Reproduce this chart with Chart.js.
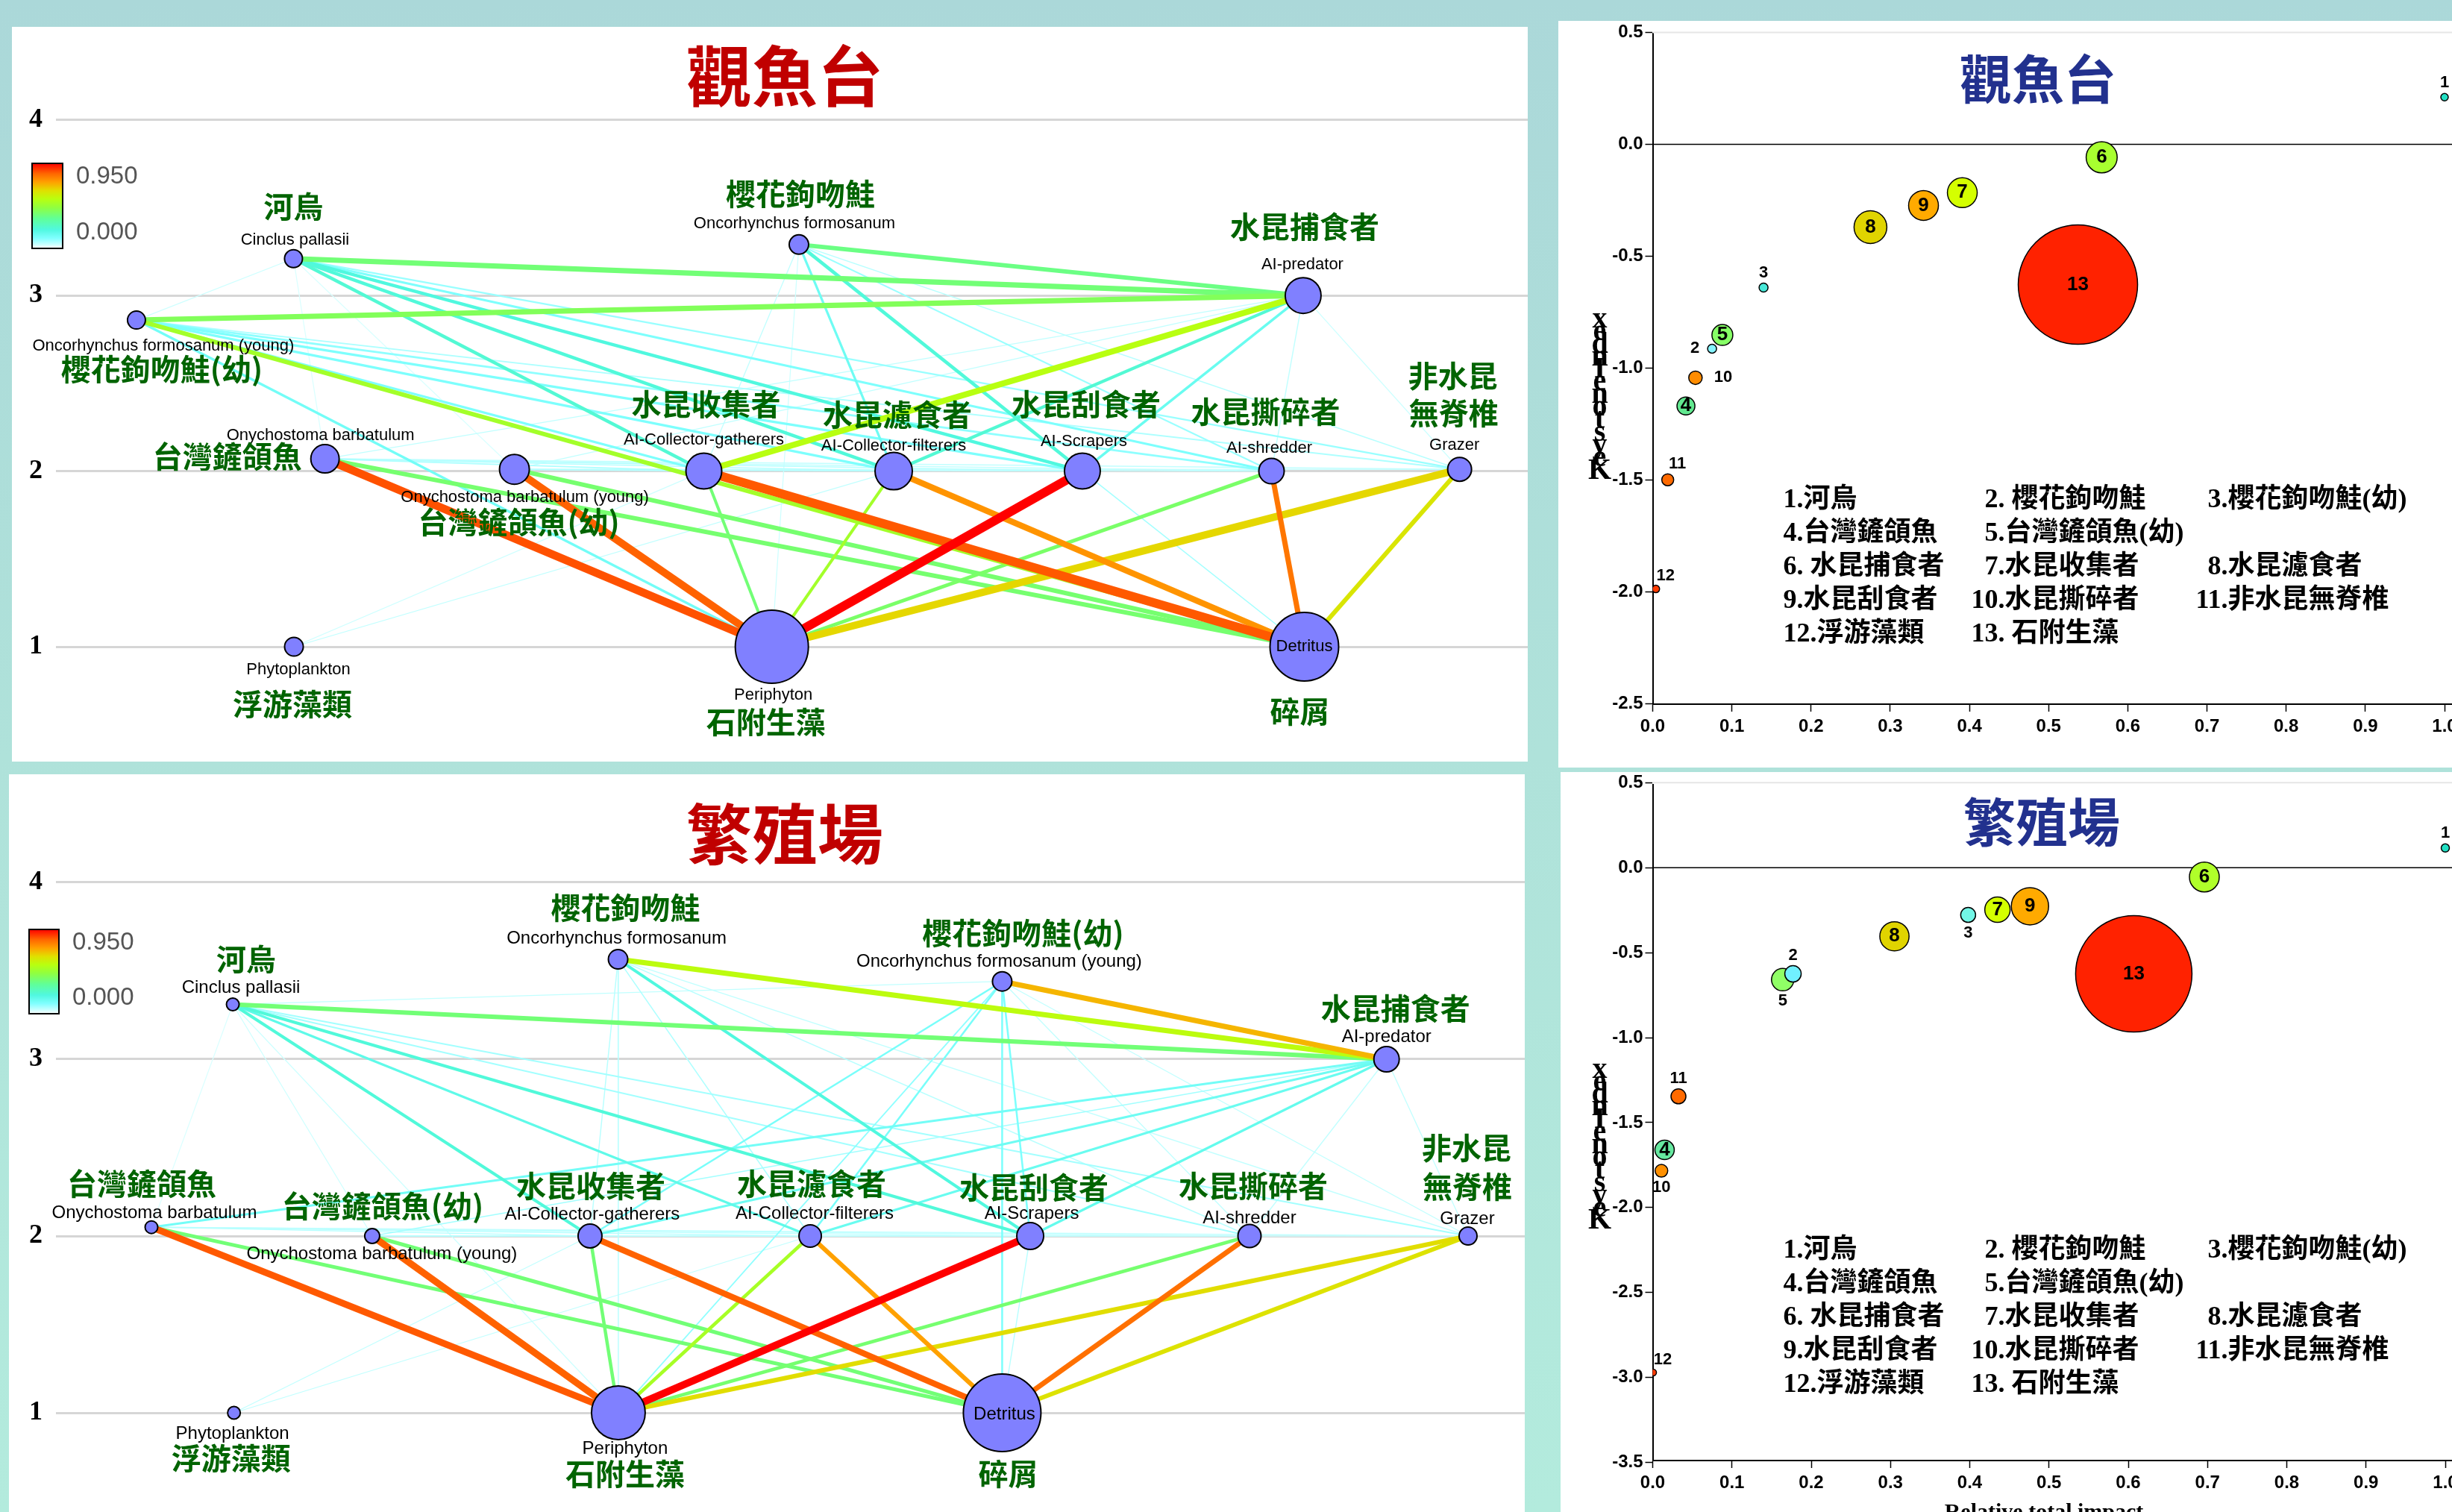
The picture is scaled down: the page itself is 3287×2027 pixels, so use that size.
<!DOCTYPE html>
<html lang="zh-Hant">
<head>
<meta charset="utf-8">
<title>食物網與關鍵種指數</title>
<script src="https://cdn.jsdelivr.net/npm/chart.js@4.4.1/dist/chart.umd.min.js"></script>
<style>
  html, body { margin: 0; padding: 0; }
  body { width: 3287px; height: 2027px; overflow: hidden; position: relative;
         background: linear-gradient(to bottom, #abd8d9 0%, #afe2da 50%, #b3ebdd 100%); }
  .panel { position: absolute; background: #ffffff; overflow: hidden; }
  .panel canvas { display: block; }
</style>
</head>
<body>
<div class="panel" style="left:16px;top:36px;width:2032px;height:985px;"><canvas id="webA" width="2032" height="985"></canvas></div>
<div class="panel" style="left:12px;top:1038px;width:2032px;height:989px;"><canvas id="webB" width="2032" height="989"></canvas></div>
<div class="panel" style="left:2089px;top:28px;width:1198px;height:1001px;"><canvas id="ksiA" width="1300" height="1001"></canvas></div>
<div class="panel" style="left:2092px;top:1035px;width:1195px;height:992px;"><canvas id="ksiB" width="1300" height="992"></canvas></div>
<script>
// ---------- functional groups ----------
const groupNames = ['河烏', '櫻花鉤吻鮭', '櫻花鉤吻鮭(幼)', '台灣鏟頜魚', '台灣鏟頜魚(幼)',
  '水昆捕食者', '水昆收集者', '水昆濾食者', '水昆刮食者', '水昆撕碎者', '非水昆無脊椎',
  '浮游藻類', '石附生藻', '碎屑'];
const groupSciNames = ['Cinclus pallasii', 'Oncorhynchus formosanum', 'Oncorhynchus formosanum (young)',
  'Onychostoma barbatulum', 'Onychostoma barbatulum (young)', 'AI-predator', 'AI-Collector-gatherers',
  'AI-Collector-filterers', 'AI-Scrapers', 'AI-shredder', 'Grazer', 'Phytoplankton', 'Periphyton', 'Detritus'];

// ---------- 觀魚台 food web ----------
const siteATitle = '觀魚台';
const siteATrophicLevel = [3.21, 3.29, 2.86, 2.07, 2.01, 3.00, 2.00, 2.00, 2.00, 2.00, 2.01, 1.00, 1.00, 1.00];
const siteAWebColumn    = [16.14, 50.48, 5.47, 18.28, 31.15, 84.74, 44.02, 56.92, 69.74, 82.59, 95.37, 16.17, 48.64, 84.82];
const siteABiomass      = [4.0, 4.69, 4.0, 10.03, 11.11, 16.0, 16.0, 17.36, 16.0, 8.03, 7.11, 4.34, 66.69, 58.78];
// [consumer, prey, diet proportion, relative flow]
const siteALinks = [
  [0, 5, 0.38, 0.55], [0, 6, 0.23, 0.32], [0, 7, 0.22, 0.32], [0, 8, 0.21, 0.30], [0, 9, 0.12, 0.18],
  [0, 10, 0.09, 0.12], [0, 2, 0.04, 0.02], [0, 4, 0.03, 0.02], [0, 3, 0.03, 0.02],
  [1, 5, 0.36, 0.45], [1, 6, 0.05, 0.03], [1, 7, 0.15, 0.20], [1, 8, 0.22, 0.32], [1, 9, 0.09, 0.10],
  [1, 10, 0.06, 0.05], [1, 12, 0.04, 0.02],
  [2, 5, 0.42, 0.55], [2, 13, 0.50, 0.45], [2, 6, 0.12, 0.20], [2, 7, 0.12, 0.20], [2, 8, 0.12, 0.20],
  [2, 9, 0.10, 0.15], [2, 10, 0.07, 0.08], [2, 12, 0.14, 0.22],
  [3, 12, 0.86, 0.90], [3, 13, 0.39, 0.45], [3, 6, 0.07, 0.06], [3, 7, 0.06, 0.05], [3, 8, 0.06, 0.05],
  [3, 9, 0.05, 0.04], [3, 10, 0.05, 0.04], [3, 5, 0.05, 0.03],
  [4, 12, 0.84, 0.82], [4, 13, 0.39, 0.45], [4, 6, 0.06, 0.05], [4, 7, 0.06, 0.05], [4, 8, 0.05, 0.04],
  [4, 9, 0.05, 0.04], [4, 10, 0.04, 0.03], [4, 5, 0.05, 0.03],
  [5, 6, 0.55, 0.64], [5, 7, 0.23, 0.30], [5, 8, 0.16, 0.22], [5, 9, 0.05, 0.04], [5, 10, 0.04, 0.03],
  [6, 13, 0.85, 1.00], [6, 12, 0.38, 0.27], [6, 11, 0.04, 0.02],
  [7, 13, 0.76, 0.64], [7, 12, 0.50, 0.27], [7, 11, 0.05, 0.02],
  [8, 12, 0.95, 1.00], [8, 13, 0.08, 0.05],
  [9, 13, 0.81, 0.55], [9, 12, 0.40, 0.36],
  [10, 12, 0.66, 0.82], [10, 13, 0.63, 0.45]
];

// ---------- 繁殖場 food web ----------
const siteBTitle = '繁殖場';
const siteBTrophicLevel = [3.31, 3.565, 3.44, 2.05, 2.00, 3.00, 2.00, 2.00, 2.00, 2.00, 2.00, 1.00, 1.00, 1.00];
const siteBWebColumn    = [12.04, 38.27, 64.42, 6.50, 21.53, 90.59, 36.36, 51.35, 66.33, 81.26, 96.14, 12.12, 38.29, 64.42];
const siteBBiomass      = [2.01, 4.69, 4.69, 2.01, 2.78, 8.03, 7.11, 6.25, 9.0, 6.67, 4.0, 2.01, 36.0, 75.11];
const siteBLinks = [
  [0, 5, 0.38, 0.45], [0, 6, 0.22, 0.27], [0, 7, 0.18, 0.20], [0, 8, 0.22, 0.27], [0, 9, 0.08, 0.08],
  [0, 10, 0.08, 0.08], [0, 2, 0.05, 0.02], [0, 4, 0.04, 0.02], [0, 3, 0.03, 0.02], [0, 12, 0.04, 0.02],
  [1, 5, 0.56, 0.55], [1, 8, 0.21, 0.27], [1, 6, 0.06, 0.04], [1, 7, 0.07, 0.05], [1, 9, 0.06, 0.04],
  [1, 10, 0.05, 0.03], [1, 12, 0.06, 0.03],
  [2, 5, 0.71, 0.55], [2, 13, 0.12, 0.14], [2, 8, 0.12, 0.14], [2, 6, 0.13, 0.14], [2, 7, 0.13, 0.14],
  [2, 9, 0.05, 0.03], [2, 10, 0.05, 0.03], [2, 12, 0.10, 0.08],
  [3, 12, 0.85, 0.73], [3, 13, 0.38, 0.36], [3, 6, 0.06, 0.04], [3, 7, 0.06, 0.04], [3, 8, 0.05, 0.04],
  [3, 9, 0.05, 0.03], [3, 10, 0.05, 0.03],
  [4, 12, 0.84, 0.73], [4, 13, 0.38, 0.36], [4, 6, 0.06, 0.04], [4, 7, 0.05, 0.04], [4, 8, 0.05, 0.04],
  [4, 9, 0.05, 0.03], [4, 10, 0.04, 0.03],
  [5, 3, 0.14, 0.18], [5, 4, 0.08, 0.06], [5, 6, 0.15, 0.18], [5, 7, 0.16, 0.20], [5, 8, 0.17, 0.20],
  [5, 9, 0.05, 0.03], [5, 10, 0.05, 0.03],
  [6, 13, 0.84, 0.64], [6, 12, 0.38, 0.32], [6, 11, 0.05, 0.02],
  [7, 13, 0.74, 0.45], [7, 12, 0.51, 0.32], [7, 11, 0.05, 0.02],
  [8, 12, 0.95, 0.82], [8, 13, 0.06, 0.04],
  [9, 13, 0.82, 0.55], [9, 12, 0.39, 0.32],
  [10, 12, 0.65, 0.45], [10, 13, 0.64, 0.45]
];

// ---------- keystoneness (groups 1-13) ----------
const ksiLegendNames = groupNames.slice(0, 13);
const siteAImpact    = [1.000, 0.075, 0.140, 0.042, 0.088, 0.567, 0.391, 0.275, 0.342, 0.054, 0.019, 0.004, 0.537];
const siteAKeystone  = [0.211, -0.913, -0.640, -1.169, -0.852, -0.058, -0.216, -0.370, -0.273, -1.043, -1.499, -1.987, -0.627];
const siteABubble    = [0.69, 1.0, 1.0, 4.0, 5.44, 12.02, 11.11, 13.44, 11.11, 2.25, 1.78, 0.69, 177.8];
const siteBImpact    = [1.000, 0.177, 0.398, 0.015, 0.164, 0.696, 0.435, 0.305, 0.476, 0.011, 0.0325, 0.0005, 0.607];
const siteBKeystone  = [0.116, -0.625, -0.278, -1.661, -0.659, -0.055, -0.247, -0.404, -0.227, -1.784, -1.346, -2.971, -0.625];
const siteBBubble    = [0.84, 3.36, 2.78, 4.69, 6.25, 11.11, 8.03, 10.67, 17.36, 2.01, 2.78, 0.56, 169.0];
const impactTicks    = [0.0, 0.1, 0.2, 0.3, 0.4, 0.5, 0.6, 0.7, 0.8, 0.9, 1.0];

// ---------- colour helpers ----------
const HEAT_MAX = 0.95;
const heatStops = [[0, '#ffffff'], [0.05, '#c4ffff'], [0.12, '#80ffff'], [0.22, '#50f8e0'], [0.35, '#60ff98'],
  [0.48, '#90ff40'], [0.58, '#b8ff10'], [0.68, '#e0e000'], [0.78, '#ffa000'], [0.88, '#ff6600'], [1, '#ff0000']];
function hexToRgb(h) { return [1, 3, 5].map(i => parseInt(h.substr(i, 2), 16)); }
function heat(v) {
  const t = Math.max(0, Math.min(1, v / HEAT_MAX));
  for (let i = 1; i < heatStops.length; i++) {
    if (t <= heatStops[i][0]) {
      const [t0, c0] = heatStops[i - 1], [t1, c1] = heatStops[i];
      const f = (t - t0) / (t1 - t0), a = hexToRgb(c0), b = hexToRgb(c1);
      return 'rgb(' + a.map((x, k) => Math.round(x + (b[k] - x) * f)).join(',') + ')';
    }
  }
  return heatStops[heatStops.length - 1][1];
}
const flowWidth = f => 1 + 11 * f;
const nodeRadius = b => 6 * Math.sqrt(b);

const ZH_GREEN = '#006400';
const ZH_FONT = 'bold 40px "Noto Sans CJK TC", "Noto Sans CJK SC", sans-serif';
const SERIF = '"Liberation Serif", "Times New Roman", serif';
const SANS = '"Liberation Sans", Arial, sans-serif';

// Re-set the axis ranges once the layout is known, so that a given value
// lands on a given pixel whatever padding the axes reserved.
function pinScales(chart, p) {
  for (let k = 0; k < 4; k++) {
    const a = chart.chartArea;
    const sx = chart.options.scales.x, sy = chart.options.scales.y;
    sx.min = p.xVal + (a.left - p.xPx) / p.xUnit;
    sx.max = p.xVal + (a.right - p.xPx) / p.xUnit;
    sy.max = p.yVal + (p.yPx - a.top) / p.yUnit;
    sy.min = p.yVal - (a.bottom - p.yPx) / p.yUnit;
    chart.update();
  }
}

// ---------- food web chart ----------
const webDecor = {
  id: 'webDecor',
  afterDatasetsDraw(chart, args, o) {
    const ctx = chart.ctx;
    const meta = chart.getDatasetMeta(0);
    ctx.save();
    ctx.textAlign = 'center';
    ctx.textBaseline = 'middle';
    meta.data.forEach((pt, i) => {
      const L = o.labels[i];
      ctx.font = o.enFont;
      ctx.fillStyle = '#000';
      ctx.fillText(groupSciNames[i], pt.x + L.en[0], pt.y + L.en[1]);
      ctx.font = ZH_FONT;
      ctx.fillStyle = ZH_GREEN;
      if (L.zh2) {
        const n = groupNames[i];
        ctx.fillText(n.slice(0, 3), pt.x + L.zh[0], pt.y + L.zh[1]);
        ctx.fillText(n.slice(3), pt.x + L.zh2[0], pt.y + L.zh2[1]);
      } else {
        ctx.fillText(groupNames[i], pt.x + L.zh[0], pt.y + L.zh[1]);
      }
    });
    // title
    ctx.font = 'bold 88px "Noto Sans CJK TC", sans-serif';
    ctx.fillStyle = '#c00000';
    ctx.fillText(o.title, o.titlePos[0], o.titlePos[1]);
    // colour bar
    const [bx, by, bw, bh] = o.bar;
    const g = ctx.createLinearGradient(0, by + bh, 0, by);
    heatStops.forEach(([t, c]) => g.addColorStop(t, c));
    ctx.fillStyle = g;
    ctx.fillRect(bx, by, bw, bh);
    ctx.strokeStyle = '#000';
    ctx.lineWidth = 2;
    ctx.strokeRect(bx, by, bw, bh);
    ctx.font = '33px ' + SANS;
    ctx.fillStyle = '#555';
    ctx.textAlign = 'left';
    ctx.fillText(HEAT_MAX.toFixed(3), o.barLabels[0], o.barLabels[1]);
    ctx.fillText((0).toFixed(3), o.barLabels[0], o.barLabels[2]);
    ctx.restore();
  }
};

function buildWeb(id, tl, col, biomass, links, layout) {
  const datasets = [{
    type: 'bubble',
    data: tl.map((y, i) => ({ x: col[i], y, r: nodeRadius(biomass[i]) })),
    backgroundColor: '#8080ff', borderColor: '#000', borderWidth: 2, order: 0
  }];
  links.forEach(([a, b, p, f]) => {
    datasets.push({
      type: 'line',
      data: [{ x: col[a], y: tl[a] }, { x: col[b], y: tl[b] }],
      borderColor: heat(p), borderWidth: flowWidth(f),
      pointRadius: 0, fill: false, tension: 0, order: 2 - p
    });
  });
  const chart = new Chart(document.getElementById(id), {
    type: 'scatter',
    data: { datasets },
    options: {
      responsive: false, animation: false, events: [], devicePixelRatio: 1,
      layout: { padding: 0, autoPadding: false },
      plugins: { legend: { display: false }, tooltip: { enabled: false }, webDecor: layout.decor },
      scales: {
        x: { type: 'linear', min: 0, max: 100, display: false },
        y: {
          type: 'linear', min: 0.4, max: 4.5,
          afterFit(s) { s.width = layout.axisWidth; },
          afterBuildTicks(s) { s.ticks = [1, 2, 3, 4].map(v => ({ value: v })); },
          grid: { color: '#d6d6d6', lineWidth: 3, drawTicks: false },
          border: { display: false },
          ticks: { font: { family: SERIF, size: 36, weight: 'bold' }, color: '#000', padding: 18,
                   autoSkip: false, callback: v => String(v) }
        }
      }
    },
    plugins: [webDecor]
  });
  pinScales(chart, layout.pin);
  return chart;
}

buildWeb('webA', siteATrophicLevel, siteAWebColumn, siteABiomass, siteALinks, {
  axisWidth: 59,
  pin: { xVal: 0, xPx: 59, xUnit: 19.73, yVal: 1, yPx: 831, yUnit: 235.43 },
  decor: {
    title: siteATitle, titlePos: [1036, 66], enFont: '22px ' + SANS,
    bar: [27, 183, 41, 114], barLabels: [86, 201, 276],
    labels: [
      { en: [2, -25], zh: [0, -70] }, { en: [-6, -28], zh: [2, -68] }, { en: [36, 35], zh: [34, 66] },
      { en: [-6, -31], zh: [-131, -3] }, { en: [14, 38], zh: [6, 71] }, { en: [-1, -41], zh: [2, -92] },
      { en: [0, -42], zh: [3, -90] }, { en: [0, -34], zh: [5, -76] }, { en: [2, -40], zh: [5, -90] },
      { en: [-3, -31], zh: [-8, -80] }, { en: [-7, -32], zh: [-9, -125], zh2: [-8, -75] },
      { en: [6, 31], zh: [-2, 77] }, { en: [2, 65], zh: [-8, 101] }, { en: [0, 0], zh: [-6, 87] }
    ]
  }
});

buildWeb('webB', siteBTrophicLevel, siteBWebColumn, siteBBiomass, siteBLinks, {
  axisWidth: 63,
  pin: { xVal: 0, xPx: 63, xUnit: 19.69, yVal: 1, yPx: 856, yUnit: 237 },
  decor: {
    title: siteBTitle, titlePos: [1040, 80], enFont: '24px ' + SANS,
    bar: [27, 208, 40, 113], barLabels: [85, 226, 300],
    labels: [
      { en: [11, -22], zh: [18, -61] }, { en: [-2, -28], zh: [10, -69] }, { en: [-4, -26], zh: [28, -65] },
      { en: [4, -19], zh: [-13, -58] }, { en: [13, 24], zh: [14, -40] }, { en: [0, -30], zh: [12, -68] },
      { en: [3, -29], zh: [1, -67] }, { en: [6, -30], zh: [2, -70] }, { en: [2, -30], zh: [5, -65] },
      { en: [0, -24], zh: [5, -67] }, { en: [-1, -23], zh: [-2, -118], zh2: [-1, -66] },
      { en: [-2, 28], zh: [-4, 61] }, { en: [9, 48], zh: [9, 82] }, { en: [3, 2], zh: [8, 82] }
    ]
  }
});

// ---------- keystoneness chart ----------
const ksiDecor = {
  id: 'ksiDecor',
  beforeDatasetsDraw(chart) {
    const ctx = chart.ctx;
    const xs = chart.scales.x, ys = chart.scales.y;
    const left = xs.getPixelForValue(0);
    ctx.save();
    // faint frame top and the zero reference line
    ctx.strokeStyle = '#e6e6e6';
    ctx.lineWidth = 2;
    ctx.beginPath();
    ctx.moveTo(left, ys.getPixelForValue(0.5));
    ctx.lineTo(chart.width, ys.getPixelForValue(0.5));
    ctx.stroke();
    ctx.strokeStyle = '#000';
    ctx.lineWidth = 1.5;
    ctx.beginPath();
    ctx.moveTo(left, ys.getPixelForValue(0));
    ctx.lineTo(chart.width, ys.getPixelForValue(0));
    ctx.stroke();
    ctx.restore();
  },
  afterDatasetsDraw(chart, args, o) {
    const ctx = chart.ctx;
    const xs = chart.scales.x, ys = chart.scales.y;
    const plotLeft = xs.getPixelForValue(0), plotTop = ys.getPixelForValue(0.5);
    const meta = chart.getDatasetMeta(0);
    ctx.save();
    // bubble numbers
    ctx.fillStyle = '#000';
    meta.data.forEach((pt, k) => {
      const i = o.order[k];
      const r = pt.options.radius;
      const place = o.place[i] || 'in';
      let x = pt.x, y = pt.y;
      ctx.textBaseline = 'middle';
      ctx.textAlign = 'center';
      ctx.font = (place === 'in' ? 'bold 26px ' : 'bold 22px ') + SANS;
      if (place === 'above') y -= r + 14;
      else if (place === 'below') y += r + 14;
      else if (place === 'left') { x -= r + 11; ctx.textAlign = 'right'; }
      else if (place === 'right') { x += r + 16; ctx.textAlign = 'left'; }
      else if (place === 'aboveRight') { x += 13; y -= r + 13; }
      ctx.fillText(String(i + 1), x, y);
    });
    // title
    ctx.textAlign = 'center';
    ctx.textBaseline = 'middle';
    ctx.font = 'bold 70px "Noto Sans CJK TC", sans-serif';
    ctx.fillStyle = '#22318e';
    ctx.fillText(o.title, o.titlePos[0], o.titlePos[1]);
    // stacked axis title
    ctx.fillStyle = '#000';
    ctx.font = 'bold 40px ' + SERIF;
    const chars = [...'Keystone Index'].reverse().filter(c => c !== ' ');
    chars.forEach((c, k) => ctx.fillText(c, plotLeft - 71, plotTop + 385 + k * 16.9));
    // group list
    ctx.font = 'bold 36px ' + SERIF + ', "Noto Sans CJK TC"';
    const cols = [plotLeft + 175, plotLeft + 472, plotLeft + 771];
    ksiLegendNames.forEach((name, i) => {
      const row = o.grid[i][0], colIdx = o.grid[i][1];
      const y = plotTop + 627 + row * 45;
      const num = (i + 1) + '.';
      const gap = o.spaced.includes(i) ? ' ' : '';
      if (colIdx === 0) {
        ctx.textAlign = 'left';
        ctx.fillText(num + gap + name, cols[0], y);
      } else {
        ctx.textAlign = 'right';
        ctx.fillText(num, cols[colIdx], y);
        ctx.textAlign = 'left';
        ctx.fillText(gap + name, cols[colIdx], y);
      }
    });
    if (o.xTitle) {
      ctx.textAlign = 'center';
      ctx.textBaseline = 'top';
      ctx.font = 'bold 30px ' + SERIF;
      ctx.fillText(o.xTitle, o.xTitlePos[0], o.xTitlePos[1]);
    }
    ctx.restore();
  }
};

function buildKsi(id, impact, keystone, bubble, colors, layout) {
  const order = impact.map((_, i) => i).reverse();
  const yTicks = [];
  for (let v = 0.5; v >= layout.yMin - 1e-9; v -= 0.5) yTicks.push(Math.round(v * 10) / 10);
  const chart = new Chart(document.getElementById(id), {
    type: 'bubble',
    data: {
      datasets: [{
        data: order.map(i => ({ x: impact[i], y: keystone[i], r: nodeRadius(bubble[i]) })),
        backgroundColor: order.map(i => colors[i]),
        borderColor: '#000', borderWidth: 1.5
      }]
    },
    options: {
      responsive: false, animation: false, events: [], devicePixelRatio: 1,
      layout: { padding: { top: layout.padTop, right: 0, bottom: 0, left: 0 }, autoPadding: false },
      plugins: { legend: { display: false }, tooltip: { enabled: false }, ksiDecor: Object.assign({ order }, layout.decor) },
      scales: {
        x: {
          type: 'linear', min: 0, max: 1.1,
          afterFit(s) { s.height = layout.xAxisHeight; },
          afterBuildTicks(s) { s.ticks = impactTicks.map(v => ({ value: v })); },
          grid: { drawOnChartArea: false, drawTicks: true, tickLength: 10, tickColor: '#000', tickWidth: 1.5 },
          border: { display: true, color: '#000', width: 2 },
          ticks: { font: { family: SANS, size: 24, weight: 'bold' }, color: '#000', padding: 6,
                   maxRotation: 0, autoSkip: false, callback: v => Number(v).toFixed(1) }
        },
        y: {
          type: 'linear', min: layout.yMin, max: 0.5,
          afterFit(s) { s.width = layout.yAxisWidth; },
          afterBuildTicks(s) { s.ticks = yTicks.map(v => ({ value: v })); },
          grid: { drawOnChartArea: false, drawTicks: true, tickLength: 10, tickColor: '#000', tickWidth: 1.5 },
          border: { display: true, color: '#000', width: 2 },
          ticks: { font: { family: SANS, size: 24, weight: 'bold' }, color: '#000', padding: 3,
                   autoSkip: false, callback: v => Number(v).toFixed(1) }
        }
      }
    },
    plugins: [ksiDecor]
  });
  pinScales(chart, layout.pin);
  return chart;
}

const ksiLegendGrid = [[0, 0], [0, 1], [0, 2], [1, 0], [1, 1], [2, 0], [2, 1], [2, 2], [3, 0], [3, 1], [3, 2], [4, 0], [4, 1]];
const ksiSpaced = [1, 5, 12];

buildKsi('ksiA', siteAImpact, siteAKeystone, siteABubble,
  ['#22e0c4', '#86f4ff', '#48e8d8', '#62e890', '#86ff66', '#a8ff30', '#d4ff00', '#e0d400', '#ffaa00', '#ff8c00', '#ff6a00', '#ff3c00', '#ff2200'],
  {
    yMin: -2.5, padTop: 16, xAxisHeight: 85, yAxisWidth: 126.5,
    pin: { xVal: 0, xPx: 126.5, xUnit: 1061.5, yVal: 0, yPx: 165.5, yUnit: 300 },
    decor: {
      title: siteATitle, titlePos: [643, 78], grid: ksiLegendGrid, spaced: ksiSpaced,
      place: { 0: 'above', 1: 'left', 2: 'above', 9: 'right', 10: 'aboveRight', 11: 'aboveRight' }
    }
  });

buildKsi('ksiB', siteBImpact, siteBKeystone, siteBBubble,
  ['#22e0c4', '#70f0ff', '#72f6e6', '#66e8a0', '#90ff66', '#b0ff2a', '#d4ff00', '#e0d400', '#ffaa00', '#ff9000', '#ff6a00', '#ff3c00', '#ff2200'],
  {
    yMin: -3.5, padTop: 15.4, xAxisHeight: 69, yAxisWidth: 123.5,
    pin: { xVal: 0, xPx: 123.5, xUnit: 1062.5, yVal: 0, yPx: 128.2, yUnit: 227.8 },
    decor: {
      title: siteBTitle, titlePos: [645, 67], grid: ksiLegendGrid, spaced: ksiSpaced,
      place: { 0: 'above', 1: 'above', 2: 'below', 4: 'below', 9: 'below', 10: 'above', 11: 'aboveRight' },
      xTitle: 'Relative total impact', xTitlePos: [648, 978]
    }
  });
</script>
</body>
</html>
